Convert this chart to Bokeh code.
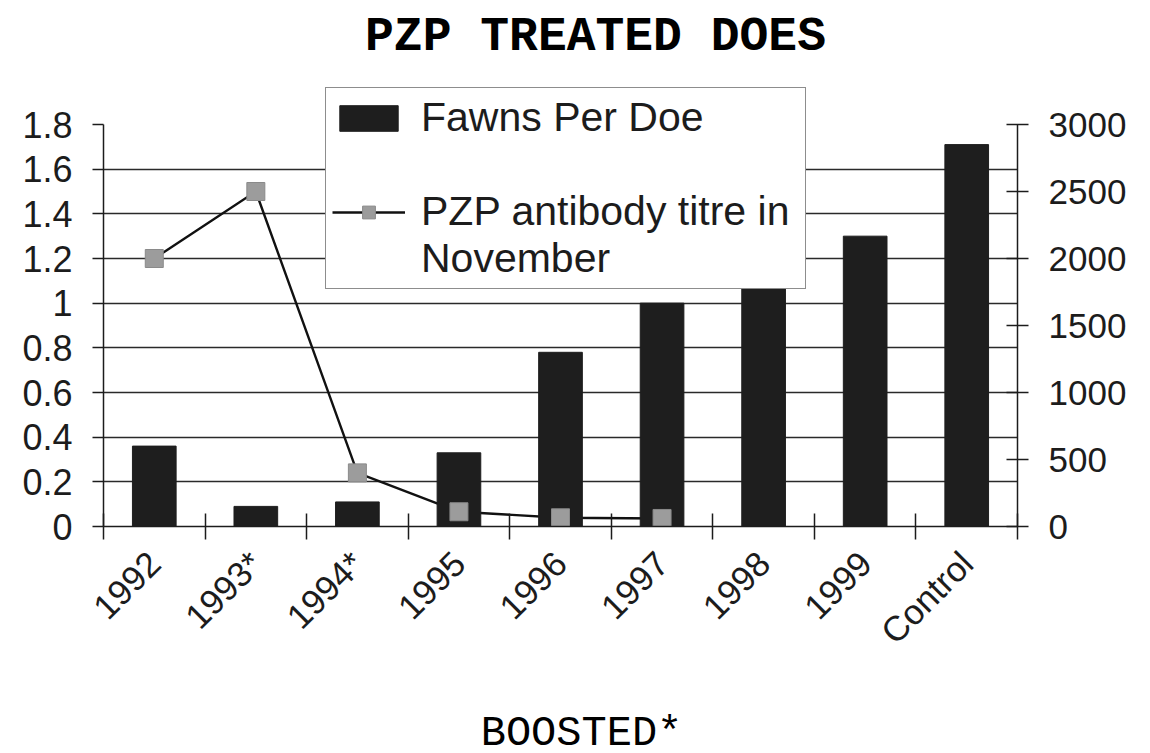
import math
from bokeh.plotting import figure
from bokeh.layouts import column
from bokeh.models import (Range1d, LinearAxis, FixedTicker, Legend, LegendItem, Label)
from bokeh.embed import file_html
from bokeh.resources import INLINE

# ---- data ----
categories = ["1992", "1993*", "1994*", "1995", "1996", "1997", "1998", "1999", "Control"]
fawns_per_doe = [0.36, 0.09, 0.11, 0.33, 0.78, 1.0, 1.15, 1.3, 1.71]
titre_years = ["1992", "1993*", "1994*", "1995", "1996", "1997"]
titre_values = [2000, 2500, 400, 110, 65, 60]
left_ticks = [0, 0.2, 0.4, 0.6, 0.8, 1, 1.2, 1.4, 1.6, 1.8]
left_labels = ["0", "0.2", "0.4", "0.6", "0.8", "1", "1.2", "1.4", "1.6", "1.8"]
grid_values = [0.2, 0.4, 0.6, 0.8, 1, 1.2, 1.4, 1.6]
right_ticks = [0, 500, 1000, 1500, 2000, 2500, 3000]
left_max, right_max = 1.8, 3000
title_text = "PZP TREATED DOES"
footer_text = "BOOSTED*"
legend_bar_label = "Fawns Per Doe"
legend_line_label_1 = "PZP antibody titre in"
legend_line_label_2 = "November"

FONT = "Liberation Sans"
INK = "#1c1c1c"

# layout (pixels)
W = 1150
H_MAIN, H_FOOT = 700, 53
FL, FR, FB = 103, 1017, 526          # frame left / right / bottom
AXIS_TOP = 124                        # pixel row of the 1.8 / 3000 tick
stretch = FB / (FB - AXIS_TOP)        # frame runs from canvas top; axes end at AXIS_TOP
TITLE_MID, FOOTER_MID = 36, 733       # pixel rows of the text anchors

centers = [i + 0.5 for i in range(len(categories))]
bar_x = [centers[categories.index(c)] for c in categories]
titre_x = [centers[categories.index(c)] for c in titre_years]

p = figure(title=None,
           x_range=Range1d(0, len(categories)),
           y_range=Range1d(0, left_max * stretch),
           width=W, height=H_MAIN,
           min_border_left=FL, min_border_right=W - FR,
           min_border_top=0, min_border_bottom=H_MAIN - FB,
           output_backend="svg", toolbar_location=None)
p.outline_line_color = None
p.background_fill_color = "white"

# left axis
ly = p.yaxis[0]
ly.ticker = FixedTicker(ticks=left_ticks)
ly.bounds = (0, left_max)
ly.major_label_overrides = dict(zip(left_ticks, left_labels))
ly.major_tick_in = 0
ly.major_tick_out = 11
ly.minor_tick_line_color = None
ly.axis_line_color = INK
ly.axis_line_width = 1.5
ly.major_tick_line_color = INK
ly.major_tick_line_width = 1.5
ly.major_label_text_font = FONT
ly.major_label_text_font_size = "36px"
ly.major_label_text_color = INK
ly.major_label_standoff = 20

# right axis
p.extra_y_ranges = {"titre": Range1d(0, right_max * stretch)}
ry = LinearAxis(y_range_name="titre", ticker=FixedTicker(ticks=right_ticks))
ry.bounds = (0, right_max)
ry.major_tick_in = 11
ry.major_tick_out = 11
ry.minor_tick_line_color = None
ry.axis_line_color = INK
ry.axis_line_width = 1.5
ry.major_tick_line_color = INK
ry.major_tick_line_width = 1.5
ry.major_label_text_font = FONT
ry.major_label_text_font_size = "35px"
ry.major_label_text_color = INK
ry.major_label_standoff = 20
p.add_layout(ry, "right")

# grid
p.xgrid.visible = False
p.ygrid.ticker = FixedTicker(ticks=grid_values)
p.ygrid.grid_line_color = "#2a2a2a"
p.ygrid.grid_line_width = 1.6

# boundary ticks (inner below axis) + category labels (outer below axis)
bx = p.xaxis[0]
bx.ticker = FixedTicker(ticks=list(range(len(categories) + 1)))
bx.major_tick_in = 13
bx.major_tick_out = 13
bx.minor_tick_line_color = None
bx.major_label_text_font_size = "0px"
bx.major_label_standoff = 0
bx.axis_line_color = INK
bx.axis_line_width = 1.5
bx.major_tick_line_color = INK
bx.major_tick_line_width = 1.5

cx = LinearAxis(ticker=FixedTicker(ticks=centers))
cx.major_label_overrides = dict(zip(centers, categories))
cx.axis_line_color = None
cx.major_tick_line_color = None
cx.minor_tick_line_color = None
cx.major_tick_out = 0
cx.major_tick_in = 0
cx.major_label_orientation = math.pi / 4
cx.major_label_text_font = FONT
cx.major_label_text_font_size = "35px"
cx.major_label_text_color = INK
cx.major_label_standoff = 18
p.add_layout(cx, "below")

# glyphs
line_r = p.line(titre_x, titre_values, y_range_name="titre",
                line_color="#111111", line_width=2.4)
bars = p.vbar(x=bar_x, top=fawns_per_doe, width=0.43,
              fill_color="#1e1e1e", line_color="#1e1e1e")
marks = p.scatter(titre_x, titre_values, y_range_name="titre",
                  marker="square", size=18, fill_color="#9c9c9c",
                  line_color="#8a8a8a", line_width=1)

LEG_TOP, LEG_PAD, LEG_PITCH = 89, 6, 47
leg_height = 2 * LEG_PAD + 4 * LEG_PITCH
legend = Legend(items=[
    LegendItem(label=legend_bar_label, renderers=[bars]),
    LegendItem(label=" ", renderers=[]),
    LegendItem(label=legend_line_label_1, renderers=[line_r, marks]),
    LegendItem(label=legend_line_label_2, renderers=[]),
], location=(325 - FL, FB - (LEG_TOP + leg_height)))
legend.border_line_color = INK
legend.border_line_width = 1.5
legend.background_fill_color = "white"
legend.background_fill_alpha = 1
legend.label_text_font = FONT
legend.label_text_font_size = "41px"
legend.label_text_color = INK
legend.label_height = LEG_PITCH
legend.label_width = 804 - LEG_PAD - 420
legend.glyph_width = 73
legend.glyph_height = 32
legend.label_standoff = 420 - 325 - LEG_PAD - 73
legend.padding = LEG_PAD
legend.spacing = 0
legend.margin = 0
p.add_layout(legend, "center")

p.add_layout(Label(x=595 - FL, y=FB - TITLE_MID, x_units="screen", y_units="screen",
                   text=title_text, text_align="center", text_baseline="alphabetic",
                   text_font="Liberation Mono", text_font_style="bold",
                   text_font_size="48px", text_color="#000000"))

# footer strip (its frame is aligned with the main frame by the column)
f = figure(title=None, x_range=Range1d(0, 1), y_range=Range1d(0, 1),
           width=W, height=H_FOOT, min_border=0,
           output_backend="svg", toolbar_location=None)
f.axis.visible = False
f.grid.visible = False
f.outline_line_color = None
f.add_layout(Label(x=581 - FL, y=(H_MAIN + H_FOOT) - FOOTER_MID,
                   x_units="screen", y_units="screen",
                   text=footer_text, text_align="center", text_baseline="alphabetic",
                   text_font="Liberation Mono", text_font_size="42px",
                   text_color="#000000"))

page = column(p, f, spacing=0)
open("out.html", "w").write(file_html(page, INLINE))
